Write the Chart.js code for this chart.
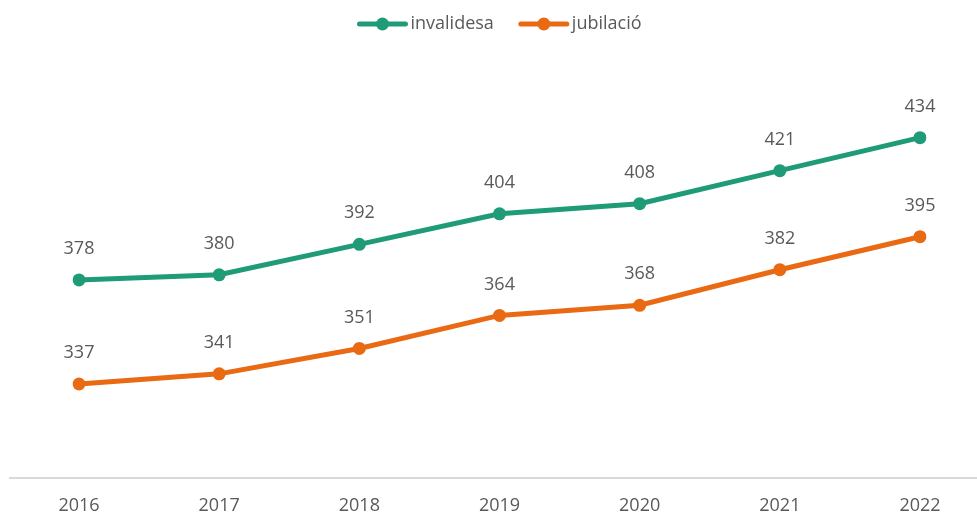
<!DOCTYPE html>
<html>
<head>
<meta charset="utf-8">
<script src="https://cdn.jsdelivr.net/npm/chart.js@4"></script>
<style>
  html, body { margin: 0; padding: 0; background: #fff; }
  #wrap { width: 977px; height: 516px; }
</style>
</head>
<body>
<div id="wrap"><canvas id="pensions"></canvas></div>
<script>
// data
const years = ["2016", "2017", "2018", "2019", "2020", "2021", "2022"];
const invalidesa = [378, 380, 392, 404, 408, 421, 434];
const jubilacio = [337, 341, 351, 364, 368, 382, 395];
const seriesNames = ["invalidesa", "jubilació"];

const green = "#1f9c77";
const orange = "#ea6a14";
const textGrey = "#595959";
const font = "'Open Sans', sans-serif";

// value labels above each point
const pointLabels = {
    id: "pointLabels",
    afterDatasetsDraw(chart) {
        const ctx = chart.ctx;
        ctx.save();
        ctx.font = "18px " + font;
        ctx.fillStyle = textGrey;
        ctx.textAlign = "center";
        ctx.textBaseline = "middle";
        chart.data.datasets.forEach((ds, i) => {
            chart.getDatasetMeta(i).data.forEach((pt, j) => {
                ctx.fillText(ds.data[j], pt.x, pt.y - 31);
            });
        });
        ctx.restore();
    },
};

// bottom axis line across the whole width
const axisLine = {
    id: "axisLine",
    beforeDatasetsDraw(chart) {
        const ctx = chart.ctx;
        const y = chart.chartArea.bottom;
        ctx.save();
        ctx.strokeStyle = "#d9d9d9";
        ctx.lineWidth = 2;
        ctx.beginPath();
        ctx.moveTo(9, y);
        ctx.lineTo(chart.width, y);
        ctx.stroke();
        ctx.restore();
    },
};

// legend: line with a dot, then the name
const lineLegend = {
    id: "lineLegend",
    afterDraw(chart) {
        const ctx = chart.ctx;
        const lineW = 50, gap = 3, itemGap = 25, cy = 24;
        ctx.save();
        ctx.font = "18px " + font;
        const items = chart.data.datasets.map(ds => ({
            label: ds.label,
            color: ds.borderColor,
            w: lineW + gap + ctx.measureText(ds.label).width,
        }));
        let total = items.reduce((s, it) => s + it.w, 0) + itemGap * (items.length - 1);
        const area = chart.chartArea;
        let x = (area.left + area.right) / 2 - total / 2;
        items.forEach(it => {
            ctx.strokeStyle = it.color;
            ctx.lineWidth = 5;
            ctx.lineCap = "round";
            ctx.beginPath();
            ctx.moveTo(x + 2, cy);
            ctx.lineTo(x + lineW - 2, cy);
            ctx.stroke();
            ctx.fillStyle = it.color;
            ctx.beginPath();
            ctx.arc(x + lineW / 2, cy, 6.5, 0, Math.PI * 2);
            ctx.fill();
            ctx.fillStyle = textGrey;
            ctx.textAlign = "left";
            ctx.textBaseline = "middle";
            ctx.fillText(it.label, x + lineW + gap, cy);
            x += it.w + itemGap;
        });
        ctx.restore();
    },
};

new Chart(document.getElementById("pensions"), {
    type: "line",
    data: {
        labels: years,
        datasets: [
            {
                label: seriesNames[0],
                data: invalidesa,
                borderColor: green,
                backgroundColor: green,
                borderWidth: 5,
                pointRadius: 6.5,
                pointHoverRadius: 6.5,
                pointBorderWidth: 0,
                tension: 0,
            },
            {
                label: seriesNames[1],
                data: jubilacio,
                borderColor: orange,
                backgroundColor: orange,
                borderWidth: 5,
                pointRadius: 6.5,
                pointHoverRadius: 6.5,
                pointBorderWidth: 0,
                tension: 0,
            },
        ],
    },
    options: {
        responsive: true,
        maintainAspectRatio: false,
        animation: false,
        layout: {
            padding: { top: 97, left: 79, right: 57, bottom: 0 },
        },
        plugins: {
            legend: { display: false },
            tooltip: { enabled: false },
        },
        scales: {
            x: {
                offset: false,
                grid: { display: false, drawTicks: false },
                border: { display: false },
                ticks: {
                    color: textGrey,
                    font: { family: font, size: 18 },
                    padding: 17,
                },
                afterFit(scale) {
                    scale.height = 38;
                },
            },
            y: {
                display: false,
                min: 300,
                max: 450,
            },
        },
    },
    plugins: [axisLine, pointLabels, lineLegend],
});
</script>
</body>
</html>
